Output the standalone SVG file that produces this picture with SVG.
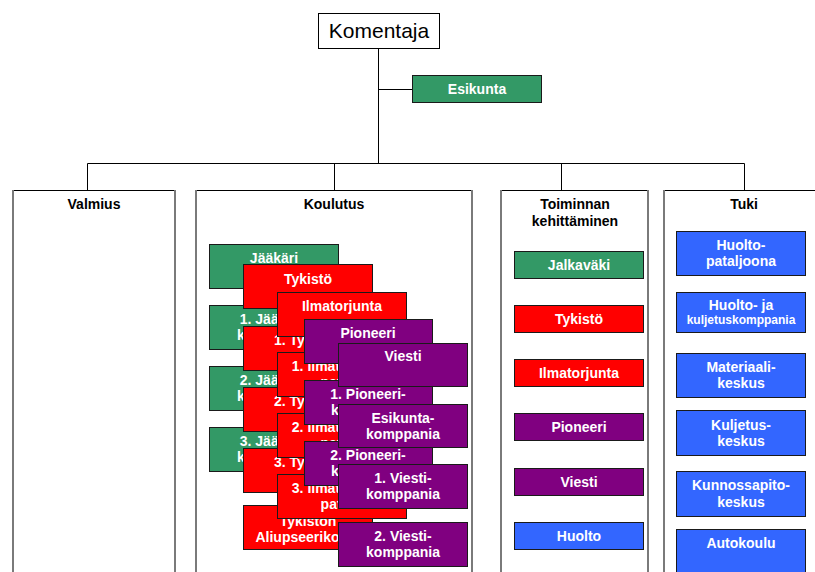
<svg xmlns="http://www.w3.org/2000/svg" width="815" height="572" viewBox="0 0 815 572">
  <style>
    text { font-family: "Liberation Sans", Arial, Helvetica, sans-serif; }
    .t { font-size: 14px; font-weight: bold; fill: #ffffff; text-anchor: middle; }
    .ts { font-size: 12px; font-weight: bold; fill: #ffffff; text-anchor: middle; }
    .h { font-size: 14px; font-weight: bold; fill: #000000; text-anchor: middle; }
    .box { stroke: #1a1a1a; stroke-width: 1; }
    .g { fill: #339966; }
    .r { fill: #ff0000; }
    .p { fill: #800080; }
    .b { fill: #3366ff; }
    .panel { fill: #ffffff; stroke: none; }
    .ptop { stroke: #000000; stroke-width: 1; fill: none; }
    .pside { stroke: #7a7a7a; stroke-width: 2; fill: none; }
    .conn { stroke: #000000; stroke-width: 1; fill: none; }
  </style>

  <rect width="815" height="572" fill="#ffffff"/>

  <!-- connectors -->
  <g id="connectors">
    <path class="conn" d="M378.5 48 V163.5"/>
    <path class="conn" d="M378.5 89.5 H412"/>
    <path class="conn" d="M87.5 163.5 H744.5"/>
    <path class="conn" d="M87.5 163.5 V190"/>
    <path class="conn" d="M334.5 163.5 V190"/>
    <path class="conn" d="M561.5 163.5 V190"/>
    <path class="conn" d="M744.5 163.5 V190"/>
  </g>

  <!-- top node -->
  <g id="komentaja">
    <rect x="318.5" y="13.5" width="121" height="35" fill="#ffffff" stroke="#000" stroke-width="1"/>
    <text x="379" y="38" style="font-size:21px; fill:#000; text-anchor:middle;">Komentaja</text>
  </g>

  <g id="esikunta">
    <rect class="box g" x="412.5" y="75.5" width="129" height="27"/>
    <text class="t" x="477" y="94">Esikunta</text>
  </g>

  <!-- Valmius panel -->
  <g id="valmius">
    <rect class="panel" x="12" y="190" width="163" height="390"/>
    <path class="ptop" d="M12 190.5 H175"/>
    <path class="pside" d="M13 190 V572 M175 190 V572"/>
    <text class="h" x="94" y="209">Valmius</text>
  </g>

  <!-- Koulutus panel -->
  <g id="koulutus">
    <rect class="panel" x="195" y="190" width="278" height="390"/>
    <path class="ptop" d="M195 190.5 H473"/>
    <path class="pside" d="M196 190 V572 M472 190 V572"/>
    <text class="h" x="334" y="209">Koulutus</text>
  </g>

  <!-- Toiminnan kehittäminen panel -->
  <g id="toiminnan-kehittaminen">
    <rect class="panel" x="500" y="190" width="149" height="390"/>
    <path class="ptop" d="M500 190.5 H649"/>
    <path class="pside" d="M501 190 V572 M648 190 V572"/>
    <text class="h" x="575" y="209">Toiminnan</text>
    <text class="h" x="575" y="226">kehittäminen</text>
  </g>

  <!-- Tuki panel -->
  <g id="tuki">
    <rect class="panel" x="663" y="190" width="160" height="390"/>
    <path class="ptop" d="M663 190.5 H815"/>
    <path class="pside" d="M664 190 V572"/>
    <text class="h" x="744" y="209">Tuki</text>
  </g>

  <!-- Koulutus: Jääkäri column -->
  <g id="jaakari">
    <rect class="box g" x="209.5" y="244.5" width="129" height="44"/>
    <text class="t" x="274" y="263">Jääkäri</text>
  </g>
  <g id="jaakari-1">
    <rect class="box g" x="209.5" y="305.5" width="129" height="44"/>
    <text class="t" x="274" y="324">1. Jääkäri-</text>
    <text class="t" x="274" y="340">komppania</text>
  </g>
  <g id="jaakari-2">
    <rect class="box g" x="209.5" y="366.5" width="129" height="44"/>
    <text class="t" x="274" y="385">2. Jääkäri-</text>
    <text class="t" x="274" y="401">komppania</text>
  </g>
  <g id="jaakari-3">
    <rect class="box g" x="209.5" y="427.5" width="129" height="44"/>
    <text class="t" x="274" y="446">3. Jääkäri-</text>
    <text class="t" x="274" y="462">komppania</text>
  </g>

  <!-- Koulutus: Tykistö column -->
  <g id="tykisto">
    <rect class="box r" x="243.5" y="264.5" width="129" height="44"/>
    <text class="t" x="308" y="284">Tykistö</text>
  </g>
  <g id="tykisto-1">
    <rect class="box r" x="243.5" y="326.5" width="129" height="44"/>
    <text class="t" x="308" y="345">1. Tykistö-</text>
    <text class="t" x="308" y="361">patteri</text>
  </g>
  <g id="tykisto-2">
    <rect class="box r" x="243.5" y="387.5" width="129" height="44"/>
    <text class="t" x="308" y="406">2. Tykistö-</text>
    <text class="t" x="308" y="422">patteri</text>
  </g>
  <g id="tykisto-3">
    <rect class="box r" x="243.5" y="448.5" width="129" height="44"/>
    <text class="t" x="308" y="467">3. Tykistö-</text>
    <text class="t" x="308" y="483">patteri</text>
  </g>
  <g id="tykiston-aliupseerikoulu">
    <rect class="box r" x="243.5" y="505.5" width="129" height="44"/>
    <text class="t" x="308" y="526">Tykistön</text>
    <text class="t" x="308" y="542">Aliupseerikoulu</text>
  </g>

  <!-- Koulutus: Ilmatorjunta column -->
  <g id="ilmatorjunta">
    <rect class="box r" x="277.5" y="292.5" width="129" height="44"/>
    <text class="t" x="342" y="311">Ilmatorjunta</text>
  </g>
  <g id="ilmatorjunta-1">
    <rect class="box r" x="277.5" y="352.5" width="129" height="44"/>
    <text class="t" x="342" y="371">1. Ilmatorjunta-</text>
    <text class="t" x="342" y="387">patteri</text>
  </g>
  <g id="ilmatorjunta-2">
    <rect class="box r" x="277.5" y="413.5" width="129" height="44"/>
    <text class="t" x="342" y="432">2. Ilmatorjunta-</text>
    <text class="t" x="342" y="448">patteri</text>
  </g>
  <g id="ilmatorjunta-3">
    <rect class="box r" x="277.5" y="474.5" width="129" height="44"/>
    <text class="t" x="342" y="493">3. Ilmatorjunta-</text>
    <text class="t" x="342" y="509">patteri</text>
  </g>

  <!-- Koulutus: Pioneeri column -->
  <g id="pioneeri">
    <rect class="box p" x="304.5" y="319.5" width="128" height="44"/>
    <text class="t" x="368" y="338">Pioneeri</text>
  </g>
  <g id="pioneeri-1">
    <rect class="box p" x="304.5" y="380.5" width="128" height="44"/>
    <text class="t" x="368" y="399">1. Pioneeri-</text>
    <text class="t" x="368" y="415">komppania</text>
  </g>
  <g id="pioneeri-2">
    <rect class="box p" x="304.5" y="441.5" width="128" height="44"/>
    <text class="t" x="368" y="460">2. Pioneeri-</text>
    <text class="t" x="368" y="476">komppania</text>
  </g>

  <!-- Koulutus: Viesti column -->
  <g id="viesti">
    <rect class="box p" x="338.5" y="343.5" width="129" height="43"/>
    <text class="t" x="403" y="361">Viesti</text>
  </g>
  <g id="esikuntakomppania">
    <rect class="box p" x="338.5" y="404.5" width="129" height="43"/>
    <text class="t" x="403" y="423">Esikunta-</text>
    <text class="t" x="403" y="439">komppania</text>
  </g>
  <g id="viesti-1">
    <rect class="box p" x="338.5" y="464.5" width="129" height="44"/>
    <text class="t" x="403" y="483">1. Viesti-</text>
    <text class="t" x="403" y="499">komppania</text>
  </g>
  <g id="viesti-2">
    <rect class="box p" x="338.5" y="522.5" width="129" height="44"/>
    <text class="t" x="403" y="541">2. Viesti-</text>
    <text class="t" x="403" y="557">komppania</text>
  </g>

  <!-- Toiminnan kehittäminen boxes -->
  <g id="tk-jalkavaki">
    <rect class="box g" x="514.5" y="251.5" width="129" height="27"/>
    <text class="t" x="579" y="270">Jalkaväki</text>
  </g>
  <g id="tk-tykisto">
    <rect class="box r" x="514.5" y="305.5" width="129" height="27"/>
    <text class="t" x="579" y="324">Tykistö</text>
  </g>
  <g id="tk-ilmatorjunta">
    <rect class="box r" x="514.5" y="359.5" width="129" height="27"/>
    <text class="t" x="579" y="378">Ilmatorjunta</text>
  </g>
  <g id="tk-pioneeri">
    <rect class="box p" x="514.5" y="413.5" width="129" height="27"/>
    <text class="t" x="579" y="432">Pioneeri</text>
  </g>
  <g id="tk-viesti">
    <rect class="box p" x="514.5" y="468.5" width="129" height="27"/>
    <text class="t" x="579" y="487">Viesti</text>
  </g>
  <g id="tk-huolto">
    <rect class="box b" x="514.5" y="522.5" width="129" height="27"/>
    <text class="t" x="579" y="541">Huolto</text>
  </g>

  <!-- Tuki boxes -->
  <g id="huoltopataljoona">
    <rect class="box b" x="676.5" y="231.5" width="129" height="44"/>
    <text class="t" x="741" y="250">Huolto-</text>
    <text class="t" x="741" y="266">pataljoona</text>
  </g>
  <g id="huolto-ja-kuljetuskomppania">
    <rect class="box b" x="676.5" y="292.5" width="129" height="40"/>
    <text class="t" x="741" y="310">Huolto- ja</text>
    <text class="ts" x="741" y="324">kuljetuskomppania</text>
  </g>
  <g id="materiaalikeskus">
    <rect class="box b" x="676.5" y="353.5" width="129" height="44"/>
    <text class="t" x="741" y="372">Materiaali-</text>
    <text class="t" x="741" y="388">keskus</text>
  </g>
  <g id="kuljetuskeskus">
    <rect class="box b" x="676.5" y="410.5" width="129" height="45"/>
    <text class="t" x="741" y="430">Kuljetus-</text>
    <text class="t" x="741" y="446">keskus</text>
  </g>
  <g id="kunnossapitokeskus">
    <rect class="box b" x="676.5" y="471.5" width="129" height="45"/>
    <text class="t" x="741" y="490">Kunnossapito-</text>
    <text class="t" x="741" y="507">keskus</text>
  </g>
  <g id="autokoulu">
    <rect class="box b" x="676.5" y="529.5" width="129" height="45"/>
    <text class="t" x="741" y="548">Autokoulu</text>
  </g>
</svg>
